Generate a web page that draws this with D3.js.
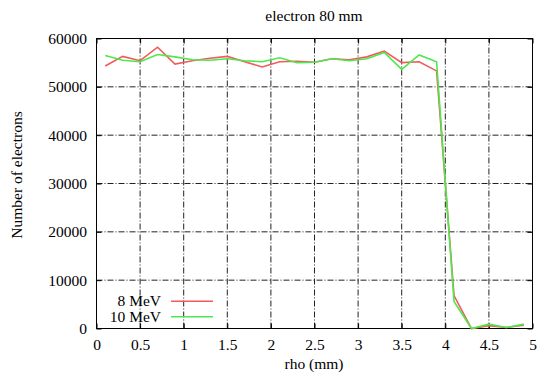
<!DOCTYPE html>
<html><head><meta charset="utf-8">
<script src="https://cdn.jsdelivr.net/npm/d3@7"></script>
<style>body{margin:0;background:#fff}svg{display:block}</style>
</head><body><svg id="c" width="538" height="376"></svg>
<script>
const rho = [0.1,0.3,0.5,0.7,0.9,1.1,1.3,1.5,1.7,1.9,2.1,2.3,2.5,2.7,2.9,3.1,3.3,3.5,3.7,3.9,4.1,4.3,4.5,4.7,4.9];
const mev8 = [54300,56300,55400,58200,54700,55400,55900,56300,55200,54100,55200,55300,55100,55800,55600,56200,57400,55000,55200,53300,6800,0,600,200,700];
const mev10 = [56500,55500,55200,56700,56200,55600,55500,55800,55400,55200,56000,55000,55100,55800,55400,55800,57100,53600,56600,55200,5600,0,900,200,900];
const xTicks = [0,0.5,1,1.5,2,2.5,3,3.5,4,4.5,5];
const yTicks = [0,10000,20000,30000,40000,50000,60000];
const seriesNames = ["8 MeV","10 MeV"];
const colors = ["#f25a5a","#4ee84e"];

const FONT = "'Liberation Serif'";
const FS = "15.5px";
const svg = d3.select("#c");
const L=96.5,R=532.5,T=38.5,B=328.5;
const x = d3.scaleLinear().domain([0,5]).range([L,R]);
const y = d3.scaleLinear().domain([0,60000]).range([B,T]);

// grid
const g = svg.append("g");
g.selectAll("line.gx").data(xTicks.slice(1,-1)).enter().append("line")
 .attr("x1",d=>x(d)).attr("x2",d=>x(d)).attr("y1",B).attr("y2",T)
 .attr("stroke","#222").attr("stroke-width",1).attr("stroke-dasharray","6,2,1,2");
g.selectAll("line.gy").data(yTicks.slice(1,-1)).enter().append("line")
 .attr("x1",L).attr("x2",R).attr("y1",d=>y(d)).attr("y2",d=>y(d))
 .attr("stroke","#222").attr("stroke-width",1).attr("stroke-dasharray","6,2,1,2");

// axes
const xa = svg.append("g").attr("transform",`translate(0,${B})`)
 .call(d3.axisBottom(x).tickValues(xTicks).tickSize(-5).tickPadding(10).tickFormat(d3.format("")));
const xt = svg.append("g").attr("transform",`translate(0,${T})`)
 .call(d3.axisTop(x).tickValues(xTicks).tickSize(-5).tickFormat(""));
const ya = svg.append("g").attr("transform",`translate(${L},0)`)
 .call(d3.axisLeft(y).tickValues(yTicks).tickSize(-5).tickPadding(9.5).tickFormat(d3.format("d")));
const yr = svg.append("g").attr("transform",`translate(${R},0)`)
 .call(d3.axisRight(y).tickValues(yTicks).tickSize(-5).tickFormat(""));
[xa,xt,ya,yr].forEach(a=>{a.attr("font-family",null).attr("font-size",null);
 a.select(".domain").remove();a.selectAll("line").attr("stroke","#000");
 a.selectAll("text").attr("fill","#000").style("font-family",FONT).style("font-size",FS);});

svg.append("rect").attr("x",L).attr("y",T).attr("width",R-L).attr("height",B-T)
 .attr("fill","none").attr("stroke","#000").attr("stroke-width",1);

// lines
const line = d3.line().x((d,i)=>x(rho[i])).y(d=>y(d));
[mev8,mev10].forEach((s,k)=>{
 svg.append("path").datum(s).attr("d",line).attr("fill","none")
  .attr("stroke",colors[k]).attr("stroke-width",1.6).attr("stroke-linejoin","miter");
});

function txt(){return svg.append("text").style("font-family",FONT).style("font-size",FS).attr("fill","#000");}

// legend
seriesNames.forEach((n,k)=>{
 const ly = 301.3 + k*15.5;
 txt().attr("x",161).attr("y",ly+5).attr("text-anchor","end").text(n);
 svg.append("line").attr("x1",171).attr("x2",213).attr("y1",ly).attr("y2",ly)
  .attr("stroke",colors[k]).attr("stroke-width",1.6);
});

// titles
txt().attr("x",314).attr("y",20.5).attr("text-anchor","middle").text("electron 80 mm");
txt().attr("x",314).attr("y",368.5).attr("text-anchor","middle").text("rho (mm)");
txt().attr("transform","translate(21.5,175) rotate(-90)").attr("text-anchor","middle").text("Number of electrons");
</script></body></html>
